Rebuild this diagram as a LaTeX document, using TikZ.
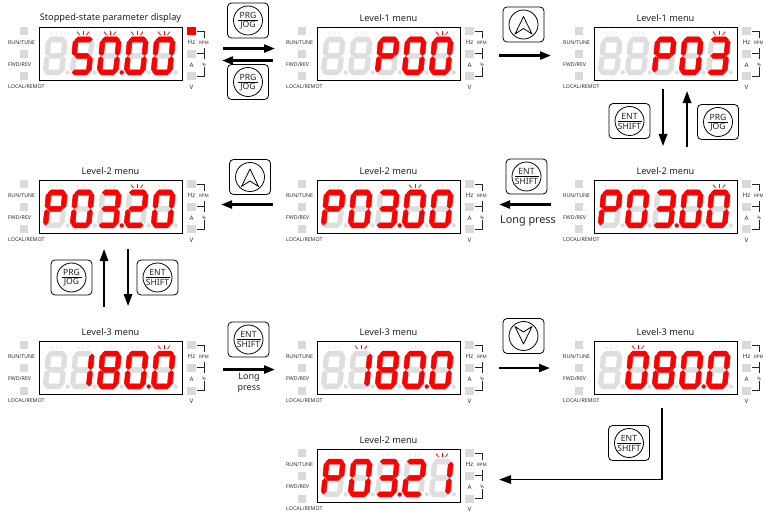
\documentclass[tikz,border=0pt]{standalone}
\usepackage{fontspec}
\setmainfont{Noto Sans}
\usetikzlibrary{arrows.meta,positioning,calc}
\definecolor{ledred}{HTML}{FF0000}
\definecolor{ledoff}{HTML}{DEDEDE}
\definecolor{sparkoff}{HTML}{EBEBEB}
\definecolor{lampoff}{HTML}{D9D9D9}
\definecolor{inkdark}{HTML}{222222}
\definecolor{inkgray}{HTML}{2E2E2E}
\tikzset{
  disp/.style={draw=black, line width=1.1pt, fill=white, minimum width=143pt, minimum height=53pt, inner sep=0pt, anchor=north west},
  segoff/.style={fill=ledoff, draw=ledoff, line width=.5pt},
  segon/.style={fill=ledred, draw=ledred, line width=.5pt},
  lamp/.style={fill=lampoff},
  ttl/.style={font=\fontsize{9.2}{10}\selectfont, text=inkdark, inner sep=0pt},
  tag/.style={font=\fontsize{5.3}{6}\selectfont, text=inkgray, inner sep=0pt, anchor=west},
  unit/.style={font=\fontsize{6.2}{7}\selectfont, text=inkgray, inner sep=0pt},
  subunit/.style={font=\fontsize{4.6}{5}\selectfont, text=inkgray, inner sep=0pt},
  brk/.style={draw=black!85, line width=.7pt},
  keybox/.style={draw=black, line width=.8pt, rounded corners=4pt, fill=white, minimum width=41pt, minimum height=35pt, inner sep=0pt},
  keyring/.style={draw=black, line width=.8pt, circle, minimum size=29pt, inner sep=0pt},
  keytxt/.style={font=\fontsize{8.6}{9}\selectfont, text=inkdark, inner sep=0pt},
  ar/.style={-{Triangle[length=11pt,width=8pt]}, line width=2.4pt, draw=black},
  arthin/.style={-{Triangle[length=12pt,width=8.5pt]}, line width=1.6pt, draw=black},
  note/.style={font=\fontsize{10.8}{11}\selectfont, text=inkdark, inner sep=0pt, align=center},
}
% seven segments, top left of the digit at the origin
\newcommand{\sega}{(2,2.2)--(4.5,0)--(16.5,0)--(19,2.2)--(16.5,4.8)--(4.5,4.8)--cycle}
\newcommand{\segb}{(18.8,3)--(21,5)--(21,15.5)--(18.6,17.6)--(16.2,15.5)--(16.2,5.5)--cycle}
\newcommand{\segc}{(18.8,18.6)--(21,20.8)--(21,31)--(18.8,33.4)--(16.2,31)--(16.2,20.8)--cycle}
\newcommand{\segd}{(2,33.8)--(4.5,31.2)--(16.5,31.2)--(19,33.8)--(16.5,36)--(4.5,36)--cycle}
\newcommand{\sege}{(2.2,18.6)--(4.8,20.8)--(4.8,31)--(2.2,33.4)--(0,31)--(0,20.8)--cycle}
\newcommand{\segf}{(2.2,3)--(4.8,5.5)--(4.8,15.5)--(2.4,17.6)--(0,15.5)--(0,5)--cycle}
\newcommand{\segg}{(3,18)--(5.3,15.7)--(15.7,15.7)--(18,18)--(15.7,20.3)--(5.3,20.3)--cycle}
\newcommand{\segnone}{(0,0)}
\newcommand{\fillseg}[2]{\expandafter\let\expandafter\segpath\csname seg#2\endcsname \path[#1] \segpath;}
\newcommand{\digoff}{none}
\newcommand{\digzero}{a,b,c,d,e,f}
\newcommand{\digone}{b,c}
\newcommand{\digtwo}{a,b,g,e,d}
\newcommand{\digthree}{a,b,g,c,d}
\newcommand{\digfive}{a,f,g,c,d}
\newcommand{\digeight}{a,b,c,d,e,f,g}
\newcommand{\digP}{a,b,f,g,e}
% rays over one digit
\newcommand{\sparkle}[2]{
  \draw[#2, line width=.7pt] ({17+27*(#1-1)},4) -- ({17+27*(#1-1)},8.3);
  \draw[#2, line width=.7pt] ({11+27*(#1-1)},4.6) -- ({13.5+27*(#1-1)},8);
  \draw[#2, line width=.7pt] ({23+27*(#1-1)},4.6) -- ({20.5+27*(#1-1)},8);
}
% name, x, y, title, five digits, lit dots, lit rays
\newcommand{\dispanel}[7]{
  \begin{scope}[shift={(#2,#3)}]
    \node[disp] (#1) at (0,0) {};
    \node[ttl] (#1ttl) at (71.5,-9) {#4};
    \foreach \ly in {0,23,45.5} {
      \fill[lamp] (-19,\ly) rectangle (-11,\ly+8);
      \fill[lamp] (148,\ly) rectangle (157,\ly+8);
    }
    \node[tag] (#1run) at (-31,15.5) {RUN/TUNE};
    \node[tag] (#1fwd) at (-31,38) {FWD/REV};
    \node[tag] (#1loc) at (-31,59.5) {LOCAL/REMOT};
    \node[unit] (#1hz) at (152.5,15.5) {Hz};
    \node[unit] (#1amp) at (152.5,38) {A};
    \node[unit] (#1volt) at (152.5,60) {V};
    \node[subunit] (#1rpm) at (165,16) {RPM};
    \node[subunit] (#1pct) at (165,37.5) {\%};
    \draw[brk] (158,4.7) -- (165,4.7) -- (165,11);
    \draw[brk] (165,21) -- (165,32) (165,26) -- (158,26);
    \draw[brk] (165,40) -- (165,49) -- (158,49);
    \foreach \dg [count=\dk] in {#5} {
      \edef\dglist{\dg}
      \begin{scope}[shift={({7.6+27*(\dk-1)},10)},xslant=.1,yscale=1.05]
        \foreach \sn in {a,b,c,d,e,f,g} {\fillseg{segoff}{\sn}}
        \foreach \sn in \dglist {\fillseg{segon}{\sn}}
      \end{scope}
      \fill[ledoff] ({28.7+27*(\dk-1)},45.5) circle (2.2);
      \sparkle{\dk}{sparkoff}
    }
    \foreach \dk in {#6} {\fill[ledred] ({28.7+27*(\dk-1)},45.5) circle (2.2);}
    \foreach \dk in {#7} {\sparkle{\dk}{ledred}}
  \end{scope}
}
% name, x, y, top word, bottom word, half width of the bar
\newcommand{\wordkey}[6]{
  \node[keybox] (#1) at (#2,#3) {};
  \node[keyring] (#1r) at (#1) {};
  \node[keytxt] (#1t) at ($(#1)+(0,-5)$) {#4};
  \node[keytxt] (#1b) at ($(#1)+(0,5)$) {#5};
  \draw[line width=.8pt] ($(#1)+(-#6,0)$) -- ($(#1)+(#6,0)$);
}
% name, x, y, 1 points up, -1 points down
\newcommand{\arrowkey}[4]{
  \node[keybox] (#1) at (#2,#3) {};
  \node[keyring] (#1r) at (#1) {};
  \begin{scope}[shift={(#2,#3)},yscale=#4]
    \draw[line width=.8pt, line join=round] (0,-8) -- (8.5,9.5) -- (0,4) -- (-8.5,9.5) -- cycle;
  \end{scope}
}
\begin{document}
\begin{tikzpicture}[x=1pt,y=-1pt]
  \useasboundingbox (0,0) rectangle (763,513);
  \dispanel{stop}{39}{27}{Stopped-state parameter display}{\digoff,\digfive,\digzero,\digzero,\digzero}{3}{2,3,4,5}
  \dispanel{pone}{317}{27}{Level-1 menu}{\digoff,\digoff,\digP,\digzero,\digzero}{}{5}
  \dispanel{ptwo}{594}{27}{Level-1 menu}{\digoff,\digoff,\digP,\digzero,\digthree}{}{5}
  \dispanel{pthr}{594}{180}{Level-2 menu}{\digP,\digzero,\digthree,\digzero,\digzero}{3}{5}
  \dispanel{pfou}{317}{180}{Level-2 menu}{\digP,\digzero,\digthree,\digzero,\digzero}{3}{4}
  \dispanel{pfiv}{39}{180}{Level-2 menu}{\digP,\digzero,\digthree,\digtwo,\digzero}{3}{4}
  \dispanel{psix}{39}{341}{Level-3 menu}{\digoff,\digone,\digeight,\digzero,\digzero}{4}{5}
  \dispanel{psev}{317}{341}{Level-3 menu}{\digoff,\digone,\digeight,\digzero,\digzero}{4}{2}
  \dispanel{peig}{594}{341}{Level-3 menu}{\digoff,\digzero,\digeight,\digzero,\digzero}{4}{2}
  \dispanel{pnin}{317}{449}{Level-2 menu}{\digP,\digzero,\digthree,\digtwo,\digone}{3}{5}
  \fill[ledred] (187,27) rectangle (196,35);

  \wordkey{ka}{248}{20.5}{PRG}{JOG}{10}
  \wordkey{kb}{248}{82}{PRG}{JOG}{10}
  \arrowkey{kc}{523.5}{24.5}{1}
  \wordkey{kd}{629.5}{121}{ENT}{SHIFT}{12}
  \wordkey{ke}{718}{122}{PRG}{JOG}{10}
  \wordkey{kf}{526.5}{176.5}{ENT}{SHIFT}{12}
  \arrowkey{kg}{250}{177}{1}
  \wordkey{kh}{71.5}{277.5}{PRG}{JOG}{10}
  \wordkey{ki}{157.5}{277.5}{ENT}{SHIFT}{12}
  \wordkey{kj}{248.5}{339.5}{ENT}{SHIFT}{12}
  \arrowkey{kk}{523.5}{336}{-1}
  \wordkey{kl}{629}{443}{ENT}{SHIFT}{12}

  \node[note] (lpa) at (528,221) {Long press};
  \node[note, font=\fontsize{9}{11}\selectfont] (lpb) at (249,382.5) {Long\\press};

  \draw[ar, shorten <=40pt, shorten >=42pt] ([yshift=5.5pt]stop.east) -- ([yshift=5.5pt]pone.west);
  \draw[ar, shorten <=44pt, shorten >=39pt] ([yshift=-6.5pt]pone.west) -- ([yshift=-6.5pt]stop.east);
  \draw[ar, shorten <=38pt, shorten >=43pt] ([yshift=-1.5pt]pone.east) -- ([yshift=-1.5pt]ptwo.west);
  \draw[arthin, shorten <=8pt, shorten >=34pt] ([xshift=-3pt]ptwo.south) -- ([xshift=-3pt]pthr.north);
  \draw[arthin, shorten <=33pt, shorten >=10pt] ([xshift=21pt]pthr.north) -- ([xshift=21pt]ptwo.south);
  \draw[ar, shorten <=43pt, shorten >=38pt] ([yshift=2.5pt]pthr.west) -- ([yshift=2.5pt]pfou.east);
  \draw[ar, shorten <=44pt, shorten >=38pt] ([yshift=2.5pt]pfou.west) -- ([yshift=2.5pt]pfiv.east);
  \draw[arthin, shorten <=34pt, shorten >=15pt] ([xshift=-7pt]psix.north) -- ([xshift=-7pt]pfiv.south);
  \draw[arthin, shorten <=15pt, shorten >=35pt] ([xshift=17pt]pfiv.south) -- ([xshift=17pt]psix.north);
  \draw[ar, shorten <=40pt, shorten >=42pt] ([yshift=-1.5pt]psix.east) -- ([yshift=-1.5pt]psev.west);
  \draw[ar, shorten <=38pt, shorten >=44pt] (psev.east) -- (peig.west);
  \draw[arthin, shorten <=13pt, shorten >=38pt] ([xshift=-4pt]peig.south) |- ([yshift=-3.5pt]pnin.east);
\end{tikzpicture}
\end{document}
